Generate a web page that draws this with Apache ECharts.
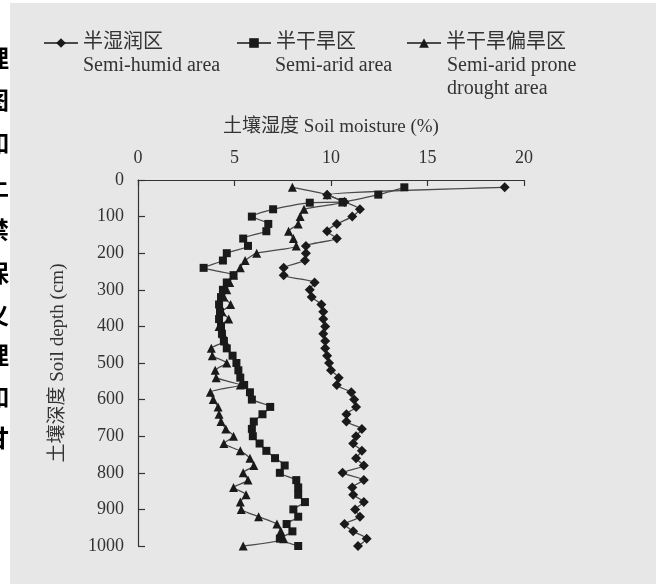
<!DOCTYPE html>
<html>
<head>
<meta charset="utf-8">
<script src="https://cdn.jsdelivr.net/npm/echarts@6/dist/echarts.min.js"></script>
<style>
html,body{margin:0;padding:0;background:#fff;}
#c{width:656px;height:584px;}
</style>
</head>
<body>
<div id="c"></div>
<script>
// ---- data ----
const xTicks = [0, 5, 10, 15, 20];
const yTicks = [0, 100, 200, 300, 400, 500, 600, 700, 800, 900, 1000];

const depths = [20,40,60,80,100,120,140,160,180,200,220,240,260,280,300,320,340,360,380,400,
  420,440,460,480,500,520,540,560,580,600,620,640,660,680,700,720,740,760,780,800,
  820,840,860,880,900,920,940,960,980,1000];

const humid = [19.0,9.8,10.7,11.5,11.1,10.3,9.8,10.3,8.7,8.7,8.65,7.55,7.55,9.15,8.9,9.0,9.5,9.6,9.6,9.7,
  9.6,9.7,9.7,9.8,9.9,10.0,10.4,10.3,11.05,11.2,11.3,10.8,10.8,11.6,11.3,11.15,11.6,11.3,11.7,10.6,
  11.7,11.1,11.15,11.7,11.25,11.5,10.7,11.15,11.85,11.4];

const depthsArid = [20,40,60,62,80,100,120,140,160,180,200,220,240,260,280,300,320,340,360,380,400,
  420,440,460,480,500,520,540,560,580,600,620,640,660,680,700,720,740,760,780,800,
  820,840,860,880,900,920,940,960,980,1000];

const arid = [13.8,12.45,10.6,8.9,7.0,5.9,6.75,6.65,5.45,5.7,4.6,4.4,3.4,4.95,4.6,4.4,4.3,4.2,4.25,4.2,4.3,
  4.35,4.45,4.6,4.9,5.1,5.2,5.3,5.5,5.8,5.9,6.85,6.45,6.0,5.9,5.95,6.3,6.65,7.1,7.6,7.35,
  8.2,8.3,8.3,8.65,8.05,8.3,7.7,8.0,7.35,8.3];

const prone = [8.0,9.8,10.6,8.6,8.4,8.3,7.8,8.05,8.2,6.15,5.55,5.3,4.95,4.75,4.6,4.45,4.8,4.35,4.7,4.2,
  4.4,4.5,3.8,3.85,4.6,4.0,4.05,5.3,3.75,3.9,4.15,4.2,4.3,4.55,4.95,4.45,5.3,5.8,6.0,5.45,
  5.7,4.95,5.6,5.3,5.35,6.25,7.2,7.4,7.55,5.45];

const namesCn = ['半湿润区', '半干旱区', '半干旱偏旱区'];
const namesEn = [['Semi-humid area'], ['Semi-arid area'], ['Semi-arid prone', 'drought area']];
const xTitle = '土壤湿度 Soil moisture (%)';
const yTitle = '土壤深度 Soil depth (cm)';
const marginChars = ['理','图','如','土','禁','保','义','理','如','甘'];

// ---- chart ----
const FONT = '"Liberation Serif", "Noto Sans CJK SC", serif';
const TXT = '#333333';
function pairs(xs, ys) { return xs.map((v, i) => [v, ys[i]]); }

const chart = echarts.init(document.getElementById('c'), null, {renderer: 'canvas'});

const legendLefts = [43, 236, 406];
const legends = namesCn.map((n, i) => ({
  data: [n], left: legendLefts[i], top: 33, orient: 'horizontal', padding: 0,
  itemWidth: 34, itemHeight: 12, itemGap: 5, selectedMode: false,
  textStyle: {fontFamily: FONT, fontSize: 20, color: TXT, padding: [0,0,0,0]}
}));

const graphics = [
  {type: 'rect', left: 0, top: 0, shape: {width: 10, height: 584}, style: {fill: '#ffffff'}, z: 0},
  {type: 'rect', left: 0, top: 0, shape: {width: 656, height: 3}, style: {fill: '#ffffff'}, z: 0}
];
const charY = [58, 100, 143, 186, 230, 273, 315, 355, 397, 438];
marginChars.forEach((ch, i) => {
  graphics.push({type: 'text', x: 9, y: charY[i], z: 1,
    style: {text: ch, font: 'bold 24px "Noto Sans CJK SC"', fill: '#000', textAlign: 'right', textVerticalAlign: 'middle'}});
});
const enX = [83, 275, 447];
namesEn.forEach((lines, i) => {
  lines.forEach((t, j) => {
    graphics.push({type: 'text', x: enX[i], y: 66 + j * 23, z: 2,
      style: {text: t, font: '20px "Liberation Serif"', fill: TXT, textAlign: 'left', textVerticalAlign: 'middle'}});
  });
});

const lineColor = '#4a4a4a';
const markColor = '#1a1a1a';
function mkSeries(name, data, symbol, size) {
  return {
    name, type: 'line', data, symbol, symbolSize: size, smooth: 0.2,
    lineStyle: {color: lineColor, width: 1.3},
    itemStyle: {color: markColor},
    animation: false, z: 3
  };
}

chart.setOption({
  backgroundColor: '#e7e7e7',
  animation: false,
  legend: legends,
  graphic: graphics,
  grid: {left: 138, top: 180, right: 132, bottom: 38, containLabel: false},
  xAxis: {
    type: 'value', position: 'top', min: xTicks[0], max: xTicks[xTicks.length - 1], interval: 5,
    name: xTitle, nameLocation: 'middle', nameGap: 43,
    nameTextStyle: {fontFamily: FONT, fontSize: 19, color: TXT},
    axisLine: {show: true, lineStyle: {color: '#333', width: 1.2}},
    axisTick: {show: true, inside: true, length: 6, lineStyle: {color: '#333', width: 1.2}},
    axisLabel: {fontFamily: FONT, fontSize: 18, color: TXT, margin: 13, formatter: v => String(v)},
    splitLine: {show: false}
  },
  yAxis: {
    type: 'value', inverse: true, min: yTicks[0], max: yTicks[yTicks.length - 1], interval: 100,
    name: yTitle, nameLocation: 'middle', nameGap: 70, nameRotate: 90,
    nameTextStyle: {fontFamily: FONT, fontSize: 19, color: TXT},
    axisLine: {show: true, lineStyle: {color: '#333', width: 1.2}},
    axisTick: {show: true, inside: true, length: 7, lineStyle: {color: '#333', width: 1.2}},
    axisLabel: {fontFamily: FONT, fontSize: 18, color: TXT, margin: 14, formatter: v => String(v)},
    splitLine: {show: false}
  },
  series: [
    mkSeries(namesCn[0], pairs(humid, depths), 'diamond', 10),
    mkSeries(namesCn[1], pairs(arid, depthsArid), 'rect', 8),
    mkSeries(namesCn[2], pairs(prone, depths), 'triangle', 9)
  ]
});
</script>
</body>
</html>
